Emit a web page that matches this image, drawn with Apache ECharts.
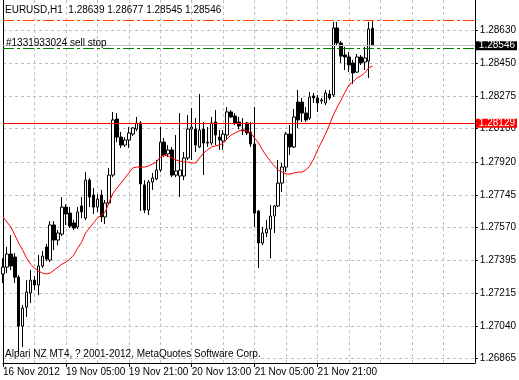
<!DOCTYPE html>
<html>
<head>
<meta charset="utf-8">
<script src="https://cdn.jsdelivr.net/npm/echarts@6/dist/echarts.min.js"></script>
<style>
  html, body { margin: 0; padding: 0; background: #fff; }
  #chart { width: 519px; height: 380px; }
</style>
</head>
<body>
<div id="chart"></div>
<script>
// EURUSD H1 bars: [open, close, low, high]
const candles = [
  [1.27320, 1.27357, 1.27271, 1.27405], [1.27357, 1.27427, 1.27325, 1.27465],
  [1.27427, 1.27363, 1.27341, 1.27529], [1.27411, 1.27303, 1.27271, 1.27432],
  [1.27303, 1.27040, 1.26890, 1.27314], [1.27040, 1.27137, 1.26928, 1.27153],
  [1.27142, 1.27223, 1.27089, 1.27287], [1.27218, 1.27287, 1.27164, 1.27341],
  [1.27287, 1.27261, 1.27234, 1.27309], [1.27261, 1.27363, 1.27207, 1.27422],
  [1.27363, 1.27416, 1.27352, 1.27443], [1.27465, 1.27400, 1.27389, 1.27481],
  [1.27395, 1.27583, 1.27384, 1.27604], [1.27583, 1.27502, 1.27448, 1.27604],
  [1.27502, 1.27540, 1.27475, 1.27556], [1.27534, 1.27679, 1.27524, 1.27733],
  [1.27679, 1.27642, 1.27583, 1.27695], [1.27647, 1.27577, 1.27567, 1.27679],
  [1.27594, 1.27567, 1.27556, 1.27610], [1.27572, 1.27653, 1.27561, 1.27679],
  [1.27685, 1.27653, 1.27620, 1.27733], [1.27620, 1.27824, 1.27610, 1.27867],
  [1.27824, 1.27733, 1.27679, 1.27835], [1.27744, 1.27679, 1.27642, 1.27781],
  [1.27679, 1.27722, 1.27653, 1.27749], [1.27744, 1.27626, 1.27599, 1.27771],
  [1.27626, 1.27701, 1.27588, 1.27717], [1.27701, 1.27851, 1.27690, 1.27889],
  [1.27851, 1.28147, 1.27840, 1.28190], [1.28152, 1.28055, 1.28028, 1.28184],
  [1.28055, 1.28012, 1.27996, 1.28082], [1.28012, 1.28039, 1.28002, 1.28055],
  [1.28039, 1.28077, 1.27996, 1.28109], [1.28071, 1.28104, 1.28061, 1.28109],
  [1.28098, 1.28131, 1.28088, 1.28163], [1.28131, 1.27803, 1.27658, 1.28141],
  [1.27798, 1.27663, 1.27647, 1.27824], [1.27663, 1.27814, 1.27636, 1.27824],
  [1.27814, 1.27835, 1.27771, 1.27862], [1.27830, 1.27878, 1.27824, 1.27932],
  [1.27878, 1.28028, 1.27867, 1.28109], [1.28028, 1.27959, 1.27948, 1.28050],
  [1.27964, 1.27986, 1.27948, 1.28012], [1.27986, 1.27851, 1.27840, 1.28002],
  [1.27851, 1.27873, 1.27840, 1.28066], [1.27846, 1.27878, 1.27733, 1.28184],
  [1.27846, 1.27943, 1.27824, 1.27975], [1.27943, 1.28098, 1.27932, 1.28173],
  [1.28098, 1.28109, 1.27932, 1.28211], [1.28098, 1.28012, 1.27975, 1.28157],
  [1.28002, 1.28093, 1.27996, 1.28286], [1.28098, 1.28023, 1.27851, 1.28136],
  [1.28023, 1.28028, 1.28002, 1.28109], [1.28023, 1.28131, 1.28012, 1.28163],
  [1.28136, 1.28066, 1.28012, 1.28200], [1.28055, 1.28039, 1.27986, 1.28093],
  [1.28034, 1.28071, 1.27986, 1.28093], [1.28066, 1.28190, 1.28039, 1.28216],
  [1.28190, 1.28163, 1.28157, 1.28200], [1.28168, 1.28131, 1.28120, 1.28184],
  [1.28136, 1.28114, 1.28098, 1.28163], [1.28088, 1.28093, 1.28066, 1.28157],
  [1.28131, 1.28077, 1.28066, 1.28136], [1.28082, 1.28018, 1.28002, 1.28136],
  [1.28018, 1.27647, 1.27572, 1.28216], [1.27658, 1.27486, 1.27352, 1.27663],
  [1.27486, 1.27540, 1.27475, 1.27572], [1.27540, 1.27561, 1.27518, 1.27610],
  [1.27561, 1.27631, 1.27405, 1.27690], [1.27631, 1.27685, 1.27540, 1.27690],
  [1.27685, 1.27808, 1.27679, 1.27932], [1.27808, 1.27894, 1.27760, 1.27916],
  [1.27894, 1.28071, 1.27867, 1.28082], [1.28071, 1.28002, 1.27959, 1.28120],
  [1.28002, 1.28163, 1.27996, 1.28206], [1.28243, 1.28147, 1.28104, 1.28308],
  [1.28243, 1.28184, 1.28136, 1.28265], [1.28184, 1.28147, 1.28136, 1.28216],
  [1.28157, 1.28270, 1.28147, 1.28297], [1.28276, 1.28265, 1.28238, 1.28292],
  [1.28265, 1.28238, 1.28190, 1.28281], [1.28249, 1.28254, 1.28233, 1.28265],
  [1.28238, 1.28292, 1.28227, 1.28308], [1.28286, 1.28265, 1.28254, 1.28308],
  [1.28281, 1.28641, 1.28270, 1.28673], [1.28641, 1.28560, 1.28549, 1.28673],
  [1.28560, 1.28490, 1.28453, 1.28571], [1.28496, 1.28485, 1.28415, 1.28539],
  [1.28485, 1.28442, 1.28404, 1.28512], [1.28453, 1.28399, 1.28340, 1.28469],
  [1.28404, 1.28485, 1.28399, 1.28501], [1.28485, 1.28453, 1.28442, 1.28496],
  [1.28458, 1.28480, 1.28415, 1.28539], [1.28463, 1.28635, 1.28372, 1.28673],
  [1.28639, 1.28546, 1.28545, 1.28677]
];

// moving average (red line)
const maValues = [
  1.27626, 1.27599, 1.27572, 1.27529, 1.27486, 1.27448, 1.27405, 1.27373, 1.27352, 1.27336,
  1.27325, 1.27320, 1.27325, 1.27341, 1.27357, 1.27373, 1.27384, 1.27400, 1.27422, 1.27459,
  1.27491, 1.27540, 1.27567, 1.27594, 1.27620, 1.27636, 1.27653, 1.27706, 1.27755, 1.27781,
  1.27808, 1.27835, 1.27862, 1.27889, 1.27894, 1.27894, 1.27894, 1.27900, 1.27910, 1.27921,
  1.27948, 1.27959, 1.27953, 1.27943, 1.27932, 1.27926, 1.27921, 1.27921, 1.27916, 1.27916,
  1.27943, 1.27969, 1.27986, 1.28002, 1.28007, 1.28012, 1.28023, 1.28045, 1.28066, 1.28077,
  1.28088, 1.28093, 1.28088, 1.28077, 1.28050, 1.28023, 1.27986, 1.27953, 1.27926, 1.27900,
  1.27878, 1.27867, 1.27857, 1.27857, 1.27862, 1.27867, 1.27867, 1.27878, 1.27900, 1.27937,
  1.27986, 1.28028, 1.28071, 1.28120, 1.28173, 1.28216, 1.28254, 1.28297, 1.28335, 1.28351,
  1.28372, 1.28383, 1.28399, 1.28426, 1.28437
];

const yTicks = [1.26865, 1.27040, 1.27215, 1.27395, 1.27570, 1.27745, 1.27920, 1.28100, 1.28275, 1.28450, 1.28630];
const xTickLabels = ['16 Nov 2012', '19 Nov 05:00', '19 Nov 21:00', '20 Nov 13:00', '21 Nov 05:00', '21 Nov 21:00'];

const header = 'EURUSD,H1  1.28639 1.28677 1.28545 1.28546';
const copyright = 'Alpari NZ MT4, ? 2001-2012, MetaQuotes Software Corp.';
const orderText = '#1331933024 sell stop';

const stopLevel = 1.28683;
const sellStopLevel = 1.28532;
const bidLevel = 1.28546;
const redLevel = 1.28129;

const yMin = 1.26842;
const yMax = 1.28791;
const slotCount = 121; // bars + empty shift space on the right
const categories = Array.from({length: slotCount}, (_, i) => String(i));

const font = '"Liberation Sans", Arial, sans-serif';
const labelStep = 16;

const chart = echarts.init(document.getElementById('chart'), null, {renderer: 'canvas'});

const isLabelSlot = (i) => i % labelStep === 0 && i / labelStep < xTickLabels.length;

const priceTag = (value, bg) => ({
  show: true, position: 'end', distance: 1,
  formatter: () => value.toFixed(5),
  color: '#fff', backgroundColor: bg, padding: [0, 2, 0, 3], lineHeight: 9,
  fontSize: 10, fontFamily: font
});

chart.setOption({
  animation: false,
  backgroundColor: '#fff',
  textStyle: {fontFamily: font},
  title: [
    {text: header, left: 5, top: 5, padding: 0,
      textStyle: {fontSize: 10, fontWeight: 'normal', color: '#000', fontFamily: font}},
    {text: copyright, left: 5, top: 349, padding: 0,
      textStyle: {fontSize: 10, fontWeight: 'normal', color: '#000', fontFamily: font}}
  ],
  grid: {left: 3, right: 37, top: 0, bottom: 17, containLabel: false},
  xAxis: {
    type: 'category',
    data: categories,
    boundaryGap: false,
    axisLine: {show: true, lineStyle: {color: '#000', width: 1}},
    axisTick: {show: true, length: 4, interval: (i) => isLabelSlot(i), lineStyle: {color: '#000'}},
    axisLabel: {
      interval: (i) => isLabelSlot(i),
      align: 'left', margin: 4, fontSize: 10, color: '#000', fontFamily: font,
      formatter: (v, i) => xTickLabels[i / labelStep] || ''
    },
    splitLine: {show: true, interval: 7, lineStyle: {color: '#c0c0c0', type: [3, 3]}}
  },
  yAxis: [
    {
      type: 'value',
      position: 'right',
      min: yMin,
      max: yMax,
      axisLine: {show: true, lineStyle: {color: '#000', width: 1}},
      axisTick: {show: true, length: 3, customValues: yTicks, lineStyle: {color: '#000'}},
      axisLabel: {
        customValues: yTicks, margin: 5, fontSize: 10, color: '#000', fontFamily: font,
        formatter: (v) => v.toFixed(5)
      },
      splitLine: {show: true, lineStyle: {color: '#c0c0c0', type: [3, 3]}}
    },
    {
      type: 'value',
      position: 'left',
      min: 0, max: 1,
      axisLine: {show: true, onZero: false, lineStyle: {color: '#000', width: 1}},
      axisTick: {show: false},
      axisLabel: {show: false},
      splitLine: {show: false}
    }
  ],
  series: [
    {
      type: 'candlestick',
      data: candles,
      barWidth: 3,
      itemStyle: {color: '#fff', color0: '#000', borderColor: '#000', borderColor0: '#000', borderWidth: 1}
    },
    {
      type: 'line',
      data: maValues,
      symbol: 'none',
      z: 5,
      lineStyle: {color: '#ff0000', width: 1},
      markLine: {
        silent: true,
        symbol: 'none',
        precision: 5,
        animation: false,
        data: [
          {yAxis: stopLevel, lineStyle: {color: '#ff4500', width: 1, type: [11, 3, 3, 3]}, label: {show: false}},
          {yAxis: sellStopLevel, lineStyle: {color: '#008000', width: 1, type: [11, 3, 3, 3]},
            label: {show: true, position: 'insideStartTop', distance: 0, offset: [3, 0],
              formatter: () => orderText, color: '#000', fontSize: 10, fontFamily: font}},
          {yAxis: bidLevel, lineStyle: {color: '#c0c0c0', width: 1, type: 'solid'}, label: priceTag(bidLevel, '#000')},
          {yAxis: redLevel, lineStyle: {color: '#ff0000', width: 1, type: 'solid'}, label: priceTag(redLevel, '#ff0000')}
        ]
      }
    }
  ]
});
</script>
</body>
</html>
